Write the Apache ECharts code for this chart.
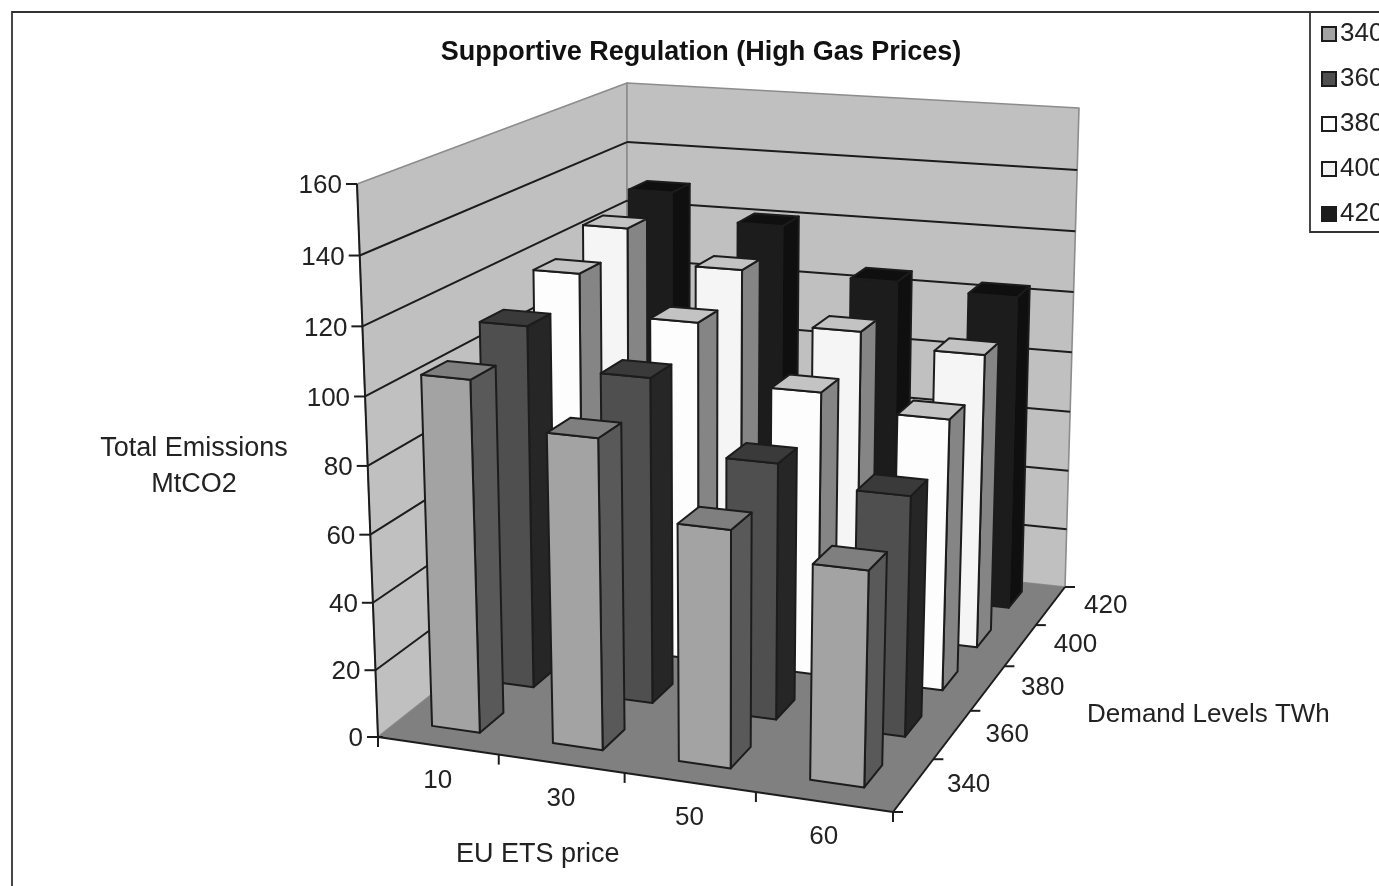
<!DOCTYPE html>
<html><head><meta charset="utf-8">
<style>html,body{margin:0;padding:0;background:#fff;overflow:hidden}#c{width:1379px;height:886px;filter:blur(0.7px)}</style>
<script src="https://cdn.jsdelivr.net/npm/echarts@6/dist/echarts.min.js"></script>
</head><body><div id="c"></div>
<script>
const prices = ['10','30','50','60'];
const demandLevels = ['340','360','380','400','420'];
const valueTicks = [0,20,40,60,80,100,120,140,160];
const d340 = [104,91,69,62];
const d360 = [110.5,98.5,77,71.5];
const d380 = [118,106,88,83.5];
const d400 = [124.5,114,97.5,93.5];
const d420 = [129,120.5,105,103];
const rows = [d340,d360,d380,d400,d420];
const faces = [
 {front:'#a3a3a3',top:'#7f7f7f',side:'#595959'},
 {front:'#4f4f4f',top:'#3a3a3a',side:'#262626'},
 {front:'#fdfdfd',top:'#c3c3c3',side:'#858585'},
 {front:'#f5f5f5',top:'#c3c3c3',side:'#858585'},
 {front:'#1c1c1c',top:'#0f0f0f',side:'#0f0f0f'}
];
const INK='#1c1c1c';
function hom(p){
 const [x0,y0]=p[0],[x1,y1]=p[1],[x2,y2]=p[2],[x3,y3]=p[3];
 const dx1=x1-x2,dx2=x3-x2,sx=x0-x1+x2-x3,dy1=y1-y2,dy2=y3-y2,sy=y0-y1+y2-y3;
 const den=dx1*dy2-dx2*dy1,g=(sx*dy2-dx2*sy)/den,h=(dx1*sy-sx*dy1)/den;
 const a=x1-x0+g*x1,b=x3-x0+h*x3,d=y1-y0+g*y1,e=y3-y0+h*y3;
 return (u,v)=>{const q=g*u+h*v+1;return [(a*u+b*v+x0)/q,(d*u+e*v+y0)/q];};
}
const floorH=hom([[378,737],[893,812],[1065,587],[627,540]]);
const topH=hom([[357,184],[908,228],[1079,108],[627,83]]);
function proj(u,v,w){
 const b=floorH(u,v),t=topH(u,v),f=w/(w+(1-w)*1.04);
 return [b[0]+(t[0]-b[0])*f,b[1]+(t[1]-b[1])*f];
}
const BAR_U=0.40, BAR_V=0.43, V_SHIFT=0.011, U_SHIFT=-0.003;
function poly(pts,fill,lw,stroke){return {type:'polygon',shape:{points:pts},style:{fill:fill,stroke:stroke||INK,lineWidth:lw===undefined?2:lw,lineJoin:'round'}};}
function line(a,b,col,lw){return {type:'line',shape:{x1:a[0],y1:a[1],x2:b[0],y2:b[1]},style:{stroke:col||INK,lineWidth:lw||2,fill:null}};}
function txt(s,p,align){return {type:'text',style:{text:s,x:p[0],y:p[1],align:align||'center',verticalAlign:'middle',fill:'#222',font:'26px "Liberation Sans"'}};}
function barItem(r){
 return function(params,api){
  const i=api.value(0),val=api.value(1),cs=params.coordSys;
  const pt=api.coord([i,val]),base=api.coord([i,0]);
  const uc=(pt[0]-cs.x)/cs.width+U_SHIFT,w=(base[1]-pt[1])/cs.height;
  const hu=BAR_U*api.size([1,0])[0]/cs.width/2;
  const vc=(r+0.5)/rows.length+V_SHIFT,hv=BAR_V/rows.length/2;
  const u0=uc-hu,u1=uc+hu,v0=vc-hv,v1=vc+hv;
  const f=faces[r];
  return {type:'group',children:[
   poly([proj(u1,v0,0),proj(u1,v1,0),proj(u1,v1,w),proj(u1,v0,w)],f.side),
   poly([proj(u0,v0,0),proj(u1,v0,0),proj(u1,v0,w),proj(u0,v0,w)],f.front),
   poly([proj(u0,v0,w),proj(u1,v0,w),proj(u1,v1,w),proj(u0,v1,w)],f.top)
  ]};
 };
}
function frameItem(params,api){
 const cs=params.coordSys,ch=[];
 const wallC='#c0c0c0',edge='#8c8c8c';
 ch.push(poly([proj(0,0,0),proj(0,1,0),proj(0,1,1),proj(0,0,1)],wallC,1.6,edge));
 ch.push(poly([proj(0,1,0),proj(1,1,0),proj(1,1,1),proj(0,1,1)],wallC,1.6,edge));
 ch.push(poly([proj(0,0,0),proj(1,0,0),proj(1,1,0),proj(0,1,0)],'#808080',0));
 const base=api.coord([0,0])[1];
 valueTicks.forEach(t=>{
  const w=(base-api.coord([0,t])[1])/cs.height;
  if(t>0&&t<160){ch.push(line(proj(0,0,w),proj(0,1,w)));ch.push(line(proj(0,1,w),proj(1,1,w)));}
  const p=proj(0,0,w);
  ch.push(line([p[0]-11,p[1]],[p[0]+(t===0?5:0),p[1]]));
  ch.push(txt(String(t),[p[0]-15,p[1]+2],'right'));
 });
 ch.push(line(proj(0,0,0),proj(0,0,1)));
 ch.push(line(proj(0,0,0),proj(1,0,0)));
 ch.push(line(proj(1,0,0),proj(1,1,0)));
 prices.forEach((c,i)=>{
  const cx=(api.coord([i,0])[0]-cs.x)/cs.width;
  const band=api.size([1,0])[0]/cs.width;
  const e=proj(cx,0,0),k=proj(cx-band/2,0,0),k2=proj(cx+band/2,0,0);
  ch.push(line(k,[k[0],k[1]+10]));
  if(i===prices.length-1) ch.push(line(k2,[k2[0],k2[1]+10]));
  ch.push(txt(c,[e[0],e[1]+35]));
 });
 demandLevels.forEach((c,r)=>{
  const n=demandLevels.length;
  const e=proj(1,(r+0.5)/n,0),k=proj(1,r/n,0);
  ch.push(line(k,[k[0]+10,k[1]]));
  if(r===n-1){const k3=proj(1,1,0);ch.push(line(k3,[k3[0]+10,k3[1]]));}
  ch.push(txt(c,[e[0]+55,e[1]]));
 });
 return {type:'group',children:ch};
}
const series=[{type:'custom',name:'frame',coordinateSystem:'cartesian2d',clip:false,silent:true,z:1,data:[[0,0]],renderItem:frameItem}];
for(let r=rows.length-1;r>=0;r--){
 series.push({type:'custom',name:demandLevels[r],coordinateSystem:'cartesian2d',clip:false,silent:true,z:2,
  itemStyle:{color:faces[r].front,borderColor:INK,borderWidth:1.6},
  renderItem:barItem(r),data:rows[r].map((v,i)=>[i,v])});
}
const chart=echarts.init(document.getElementById('c'),null,{renderer:'canvas'});
chart.setOption({
 animation:false,backgroundColor:'#fff',
 grid:{left:100,right:100,top:100,bottom:100,show:false},
 xAxis:{type:'category',data:prices,show:false},
 yAxis:{type:'value',min:0,max:160,interval:20,show:false},
 title:{text:'Supportive Regulation (High Gas Prices)',left:696,top:34,textAlign:'center',
  textStyle:{fontFamily:'Liberation Sans',fontWeight:'bold',fontSize:27,color:'#111'}},
 legend:{data:demandLevels,left:1310,top:12,orient:'vertical',padding:[9,10,5,11],itemGap:19,itemWidth:14,itemHeight:14,
  icon:'rect',borderColor:'#333',borderWidth:1.8,backgroundColor:'#fff',selectedMode:false,
  textStyle:{fontFamily:'Liberation Sans',fontSize:26,color:'#222',padding:[0,0,0,-1]}},
 graphic:[
  {type:'rect',silent:true,z:-1,shape:{x:12,y:12,width:1500,height:1000},style:{fill:'#fff',stroke:'#333',lineWidth:1.8}},
  {type:'text',silent:true,x:194,y:431,style:{text:'Total Emissions\nMtCO2',align:'center',lineHeight:36,fill:'#222',font:'27px "Liberation Sans"'}},
  {type:'text',silent:true,x:456,y:841,style:{text:'EU ETS price',fill:'#222',font:'27px "Liberation Sans"'}},
  {type:'text',silent:true,x:1087,y:702,style:{text:'Demand Levels TWh',fill:'#222',font:'26px "Liberation Sans"'}}
 ],
 series:series
});
</script></body></html>
